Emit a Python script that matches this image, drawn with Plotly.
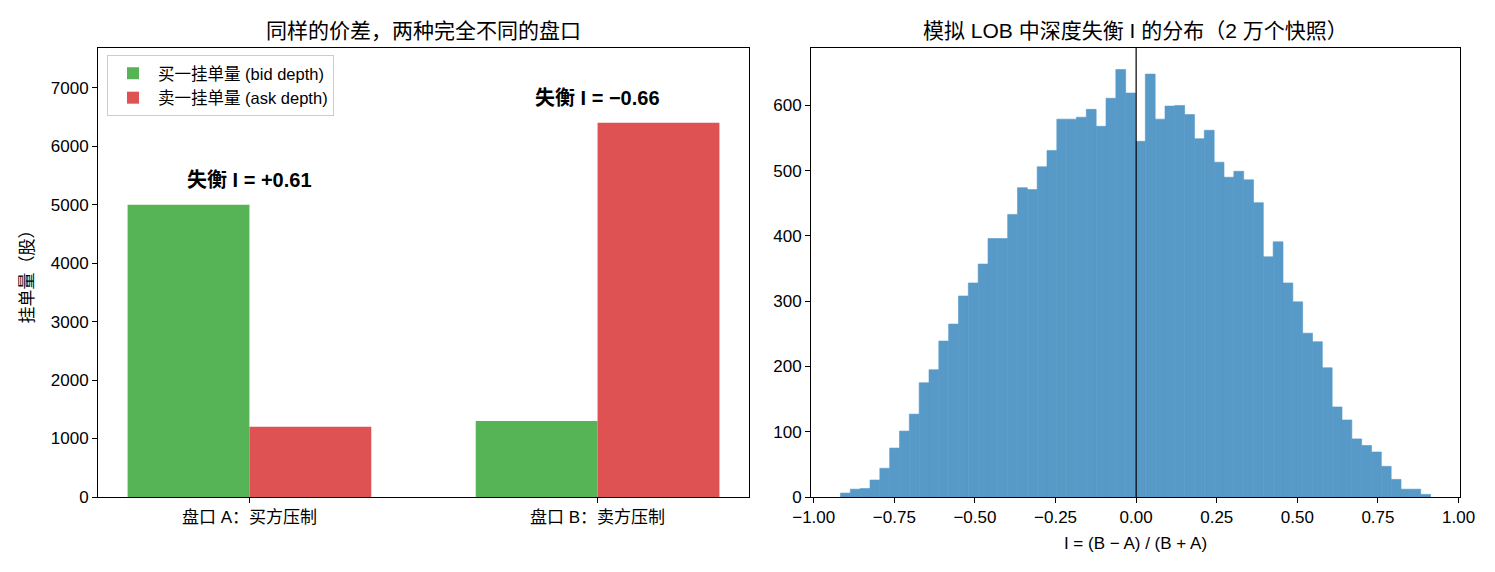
import plotly.graph_objects as go

# ---------------- data ----------------
books = ["盘口 A：买方压制", "盘口 B：卖方压制"]
bid_depth = [5000, 1300]
ask_depth = [1200, 6400]
imbalance_labels = ["失衡 I = +0.61", "失衡 I = −0.66"]

hist_lo = -0.917
hist_hi = 0.913
hist_counts = [6, 12, 13, 26, 44, 75, 101, 127, 175, 195,
               239, 265, 308, 328, 357, 396, 396, 433, 474, 471,
               506, 531, 579, 579, 582, 594, 568, 611, 655, 619,
               545, 648, 579, 599, 600, 586, 549, 562, 513, 490,
               499, 486, 451, 368, 391, 328, 299, 251, 238, 198,
               138, 118, 89, 79, 69, 47, 27, 12, 12, 4]
x_ticks = [-1.0, -0.75, -0.5, -0.25, 0.0, 0.25, 0.5, 0.75, 1.0]

# ---------------- figure ----------------
W, H = 1495, 572
FONT = "Liberation Sans, Noto Sans CJK SC, sans-serif"
GREEN = "#56b356"
RED = "#de5253"
BLUE = "#5799c7"

n = len(hist_counts)
bw = (hist_hi - hist_lo) / n
centers = [hist_lo + bw * (i + 0.5) for i in range(n)]

fig = go.Figure()
fig.add_trace(go.Bar(x=[0, 1], y=bid_depth, width=0.35, offset=-0.35,
                     marker=dict(color=GREEN, line=dict(width=0)),
                     name="买一挂单量 (bid depth)", xaxis="x", yaxis="y"))
fig.add_trace(go.Bar(x=[0, 1], y=ask_depth, width=0.35, offset=0,
                     marker=dict(color=RED, line=dict(width=0)),
                     name="卖一挂单量 (ask depth)", xaxis="x", yaxis="y"))
fig.add_trace(go.Bar(x=centers, y=hist_counts, width=bw,
                     marker=dict(color=BLUE, line=dict(width=0.6, color=BLUE)),
                     showlegend=False, xaxis="x2", yaxis="y2"))

for i, lab in enumerate(imbalance_labels):
    top = max(bid_depth[i], ask_depth[i])
    fig.add_annotation(x=i, y=top + 200, xref="x", yref="y", text="<b>" + lab + "</b>",
                       showarrow=False, yanchor="bottom", xanchor="center",
                       font=dict(size=20, color="black", family=FONT))

axis_common = dict(showline=True, linecolor="black", linewidth=1, mirror=True,
                   ticks="outside", ticklen=5, tickcolor="black", showgrid=False,
                   zeroline=False, automargin=False,
                   tickfont=dict(size=17, color="black", family=FONT))

x1d = [98 / W, 749 / W]
x2d = [811 / W, 1460 / W]

fig.update_layout(
    width=W, height=H,
    margin=dict(l=0, r=0, t=48, b=75),
    paper_bgcolor="white", plot_bgcolor="white",
    font=dict(family=FONT, color="black"),
    barmode="overlay",
    xaxis=dict(domain=x1d, range=[-0.435, 1.435], tickvals=[0, 1], ticktext=books,
               anchor="y", **axis_common),
    yaxis=dict(domain=[0, 1], range=[0, 7680], tickvals=list(range(0, 8000, 1000)),
               anchor="x", title=dict(text="挂单量（股）", font=dict(size=17, family=FONT), standoff=12),
               **axis_common),
    xaxis2=dict(domain=x2d, range=[-1.0085, 1.0045], tickvals=x_ticks, tickformat=".2f",
                anchor="y2", title=dict(text="I = (B − A) / (B + A)", font=dict(size=17, family=FONT), standoff=10),
                **axis_common),
    yaxis2=dict(domain=[0, 1], range=[0, 688], tickvals=list(range(0, 700, 100)),
                anchor="x2", **axis_common),
    legend=dict(x=107 / W, y=(497 - 55) / 449, xanchor="left", yanchor="top",
                bgcolor="white", bordercolor="#cccccc", borderwidth=1,
                itemwidth=40,
                font=dict(size=16.5, family=FONT), tracegroupgap=0),
    showlegend=True,
)

fig.add_shape(type="line", xref="x2", yref="y2 domain", x0=0, x1=0, y0=0, y1=1,
              line=dict(color="black", width=1.2))

ty = (497 - 30) / 449
fig.add_annotation(x=(x1d[0] + x1d[1]) / 2, y=ty, xref="paper", yref="paper",
                   text="同样的价差，两种完全不同的盘口", showarrow=False,
                   xanchor="center", yanchor="middle", font=dict(size=21, family=FONT, color="black"))
fig.add_annotation(x=(x2d[0] + x2d[1]) / 2, y=ty, xref="paper", yref="paper",
                   text="模拟 LOB 中深度失衡 I 的分布（2 万个快照）", showarrow=False,
                   xanchor="center", yanchor="middle", font=dict(size=21, family=FONT, color="black"))

fig.write_html("out.html")
